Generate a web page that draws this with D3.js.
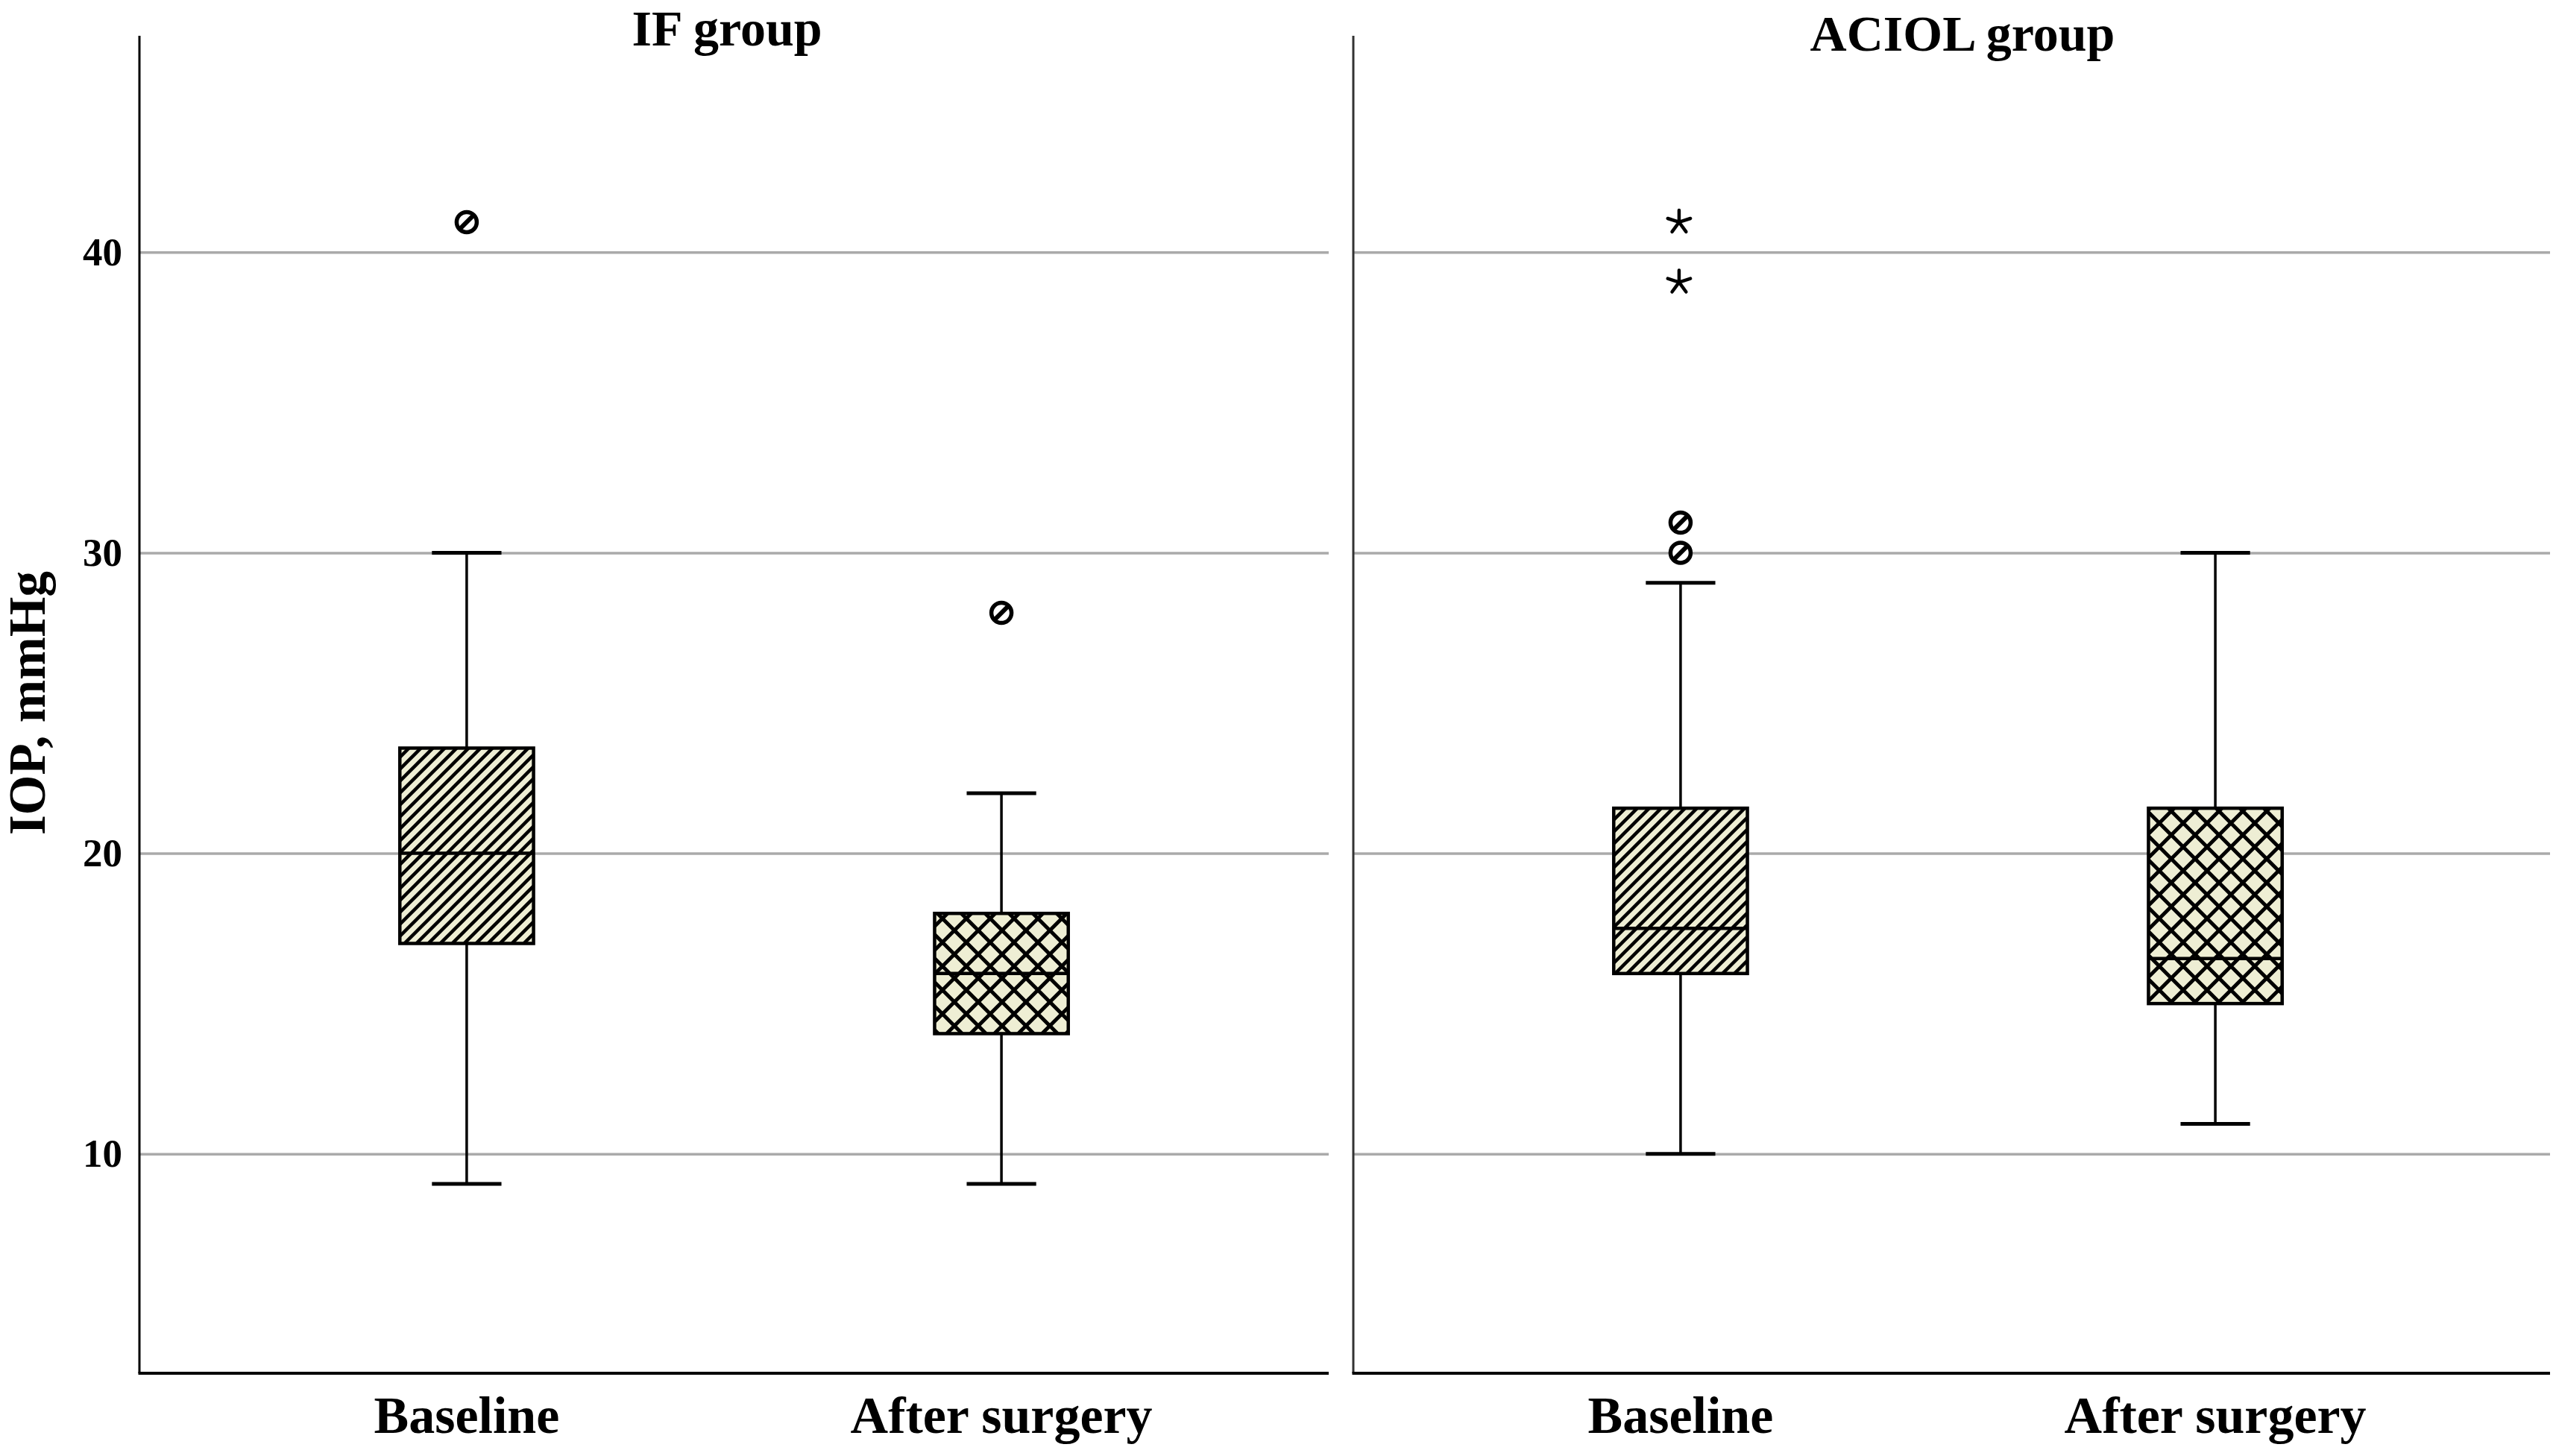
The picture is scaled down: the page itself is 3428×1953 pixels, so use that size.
<!DOCTYPE html>
<html>
<head>
<meta charset="utf-8">
<script src="https://cdn.jsdelivr.net/npm/d3@7"></script>
<style>
  body { margin: 0; background: #fff; }
  text { font-family: "Liberation Serif", "Times New Roman", serif; font-weight: bold; fill: #000; }
</style>
</head>
<body>
<div id="chart"></div>
<script>
// values (IOP, mmHg)
var groups = ["IF group", "ACIOL group"];
var categories = ["Baseline", "After surgery"];
var whiskerLow  = [[9, 9], [10, 11]];
var q1          = [[17, 14], [16, 15]];
var medians     = [[20, 16], [17.5, 16.5]];
var q3          = [[23.5, 18], [21.5, 21.5]];
var whiskerHigh = [[30, 22], [29, 30]];
var outliers    = [[[41], [28]], [[30, 31], []]];   // circle markers
var extremes    = [[[], []], [[39, 41], []]];       // star markers
var yTicks = [10, 20, 30, 40];

var svgWidth = 3428, svgHeight = 1953;
var plotTop = 48, plotBottom = 1842;
var panelLeft = [187, 1815];
var panelWidth = 1595;
var panelEnd = [1782, 3420];
var titleX = [975, 2632], titleY = [61, 68];
var boxFill = "#eeeed4";

var svg = d3.select("#chart")
  .append("svg")
  .attr("width", svgWidth)
  .attr("height", svgHeight);

// hatch patterns
var defs = svg.append("defs");
var diag = defs.append("pattern")
  .attr("id", "diag")
  .attr("patternUnits", "userSpaceOnUse")
  .attr("width", 16).attr("height", 16);
diag.append("rect").attr("width", 16).attr("height", 16).attr("fill", boxFill);
diag.append("path")
  .attr("d", "M-4,4 L4,-4 M-2,18 L18,-2 M12,20 L20,12")
  .attr("stroke", "#000").attr("stroke-width", 4.5);

var cross = defs.append("pattern")
  .attr("id", "cross")
  .attr("patternUnits", "userSpaceOnUse")
  .attr("width", 32).attr("height", 32);
cross.append("rect").attr("width", 32).attr("height", 32).attr("fill", boxFill);
cross.append("path")
  .attr("d", "M-3,-3 L35,35 M35,-3 L-3,35")
  .attr("stroke", "#000").attr("stroke-width", 5);
var patterns = ["url(#diag)", "url(#cross)"];

var y = d3.scaleLinear()
  .domain([2.7, 47.2])
  .range([plotBottom, plotTop]);

// 5 armed star path
function starPath(r) {
  var p = "";
  for (var k = 0; k < 5; k++) {
    var a = (-90 + k * 72) * Math.PI / 180;
    p += "M0,0L" + (r * Math.cos(a)).toFixed(2) + "," + (r * Math.sin(a)).toFixed(2);
  }
  return p;
}

groups.forEach(function(groupName, g) {
  var x = d3.scalePoint()
    .domain(categories)
    .range([panelLeft[g], panelLeft[g] + panelWidth])
    .padding(0.612);
  var boxW = x.step() * 0.25;
  var capW = x.step() * 0.13;

  var panel = svg.append("g");

  // gridlines (and tick labels on the first panel)
  var gridAxis = d3.axisLeft(y)
    .tickValues(yTicks)
    .tickSize(-(panelEnd[g] - panelLeft[g]))
    .tickPadding(23)
    .tickFormat(g === 0 ? d3.format("d") : function() { return ""; });
  var grid = panel.append("g")
    .attr("transform", "translate(" + panelLeft[g] + ",0)")
    .call(gridAxis);
  grid.select(".domain").remove();
  grid.selectAll(".tick line").attr("stroke", "#aaaaaa").attr("stroke-width", 3.5);
  grid.selectAll(".tick text")
    .style("font-size", "53px")
    .attr("fill", "#000");

  // axis lines
  panel.append("line")
    .attr("x1", panelLeft[g]).attr("x2", panelLeft[g])
    .attr("y1", plotTop).attr("y2", plotBottom)
    .attr("stroke", g === 0 ? "#000" : "#333").attr("stroke-width", 3);
  panel.append("line")
    .attr("x1", panelLeft[g] - 1.5).attr("x2", panelEnd[g])
    .attr("y1", plotBottom).attr("y2", plotBottom)
    .attr("stroke", "#000").attr("stroke-width", 4);

  // panel title
  panel.append("text")
    .attr("x", titleX[g]).attr("y", titleY[g])
    .attr("text-anchor", "middle")
    .style("font-size", "68px")
    .text(groupName);

  // category labels
  panel.selectAll(".cat")
    .data(categories)
    .enter().append("text")
    .attr("x", function(d) { return x(d); })
    .attr("y", 1922)
    .attr("text-anchor", "middle")
    .style("font-size", "70px")
    .text(function(d) { return d; });

  var rows = categories.map(function(c, i) {
    return {
      cat: c, idx: i,
      low: whiskerLow[g][i], q1: q1[g][i], med: medians[g][i],
      q3: q3[g][i], high: whiskerHigh[g][i],
      out: outliers[g][i], ext: extremes[g][i]
    };
  });

  var boxes = panel.selectAll(".box")
    .data(rows)
    .enter().append("g");

  // whiskers
  boxes.append("line")
    .attr("x1", function(d) { return x(d.cat); })
    .attr("x2", function(d) { return x(d.cat); })
    .attr("y1", function(d) { return y(d.high); })
    .attr("y2", function(d) { return y(d.q3); })
    .attr("stroke", "#000").attr("stroke-width", 3.5);
  boxes.append("line")
    .attr("x1", function(d) { return x(d.cat); })
    .attr("x2", function(d) { return x(d.cat); })
    .attr("y1", function(d) { return y(d.q1); })
    .attr("y2", function(d) { return y(d.low); })
    .attr("stroke", "#000").attr("stroke-width", 3.5);
  // caps
  ["high", "low"].forEach(function(k) {
    boxes.append("line")
      .attr("x1", function(d) { return x(d.cat) - capW / 2; })
      .attr("x2", function(d) { return x(d.cat) + capW / 2; })
      .attr("y1", function(d) { return y(d[k]); })
      .attr("y2", function(d) { return y(d[k]); })
      .attr("stroke", "#000").attr("stroke-width", 5);
  });

  // box
  boxes.append("rect")
    .attr("x", function(d) { return x(d.cat) - boxW / 2; })
    .attr("y", function(d) { return y(d.q3); })
    .attr("width", boxW)
    .attr("height", function(d) { return y(d.q1) - y(d.q3); })
    .attr("fill", function(d) { return patterns[d.idx]; })
    .attr("stroke", "#000").attr("stroke-width", 4.5);
  // median
  boxes.append("line")
    .attr("x1", function(d) { return x(d.cat) - boxW / 2; })
    .attr("x2", function(d) { return x(d.cat) + boxW / 2; })
    .attr("y1", function(d) { return y(d.med); })
    .attr("y2", function(d) { return y(d.med); })
    .attr("stroke", "#000").attr("stroke-width", 4.5);

  // outliers (circle with slash) and extremes (stars)
  rows.forEach(function(d) {
    d.out.forEach(function(v) {
      var o = panel.append("g")
        .attr("transform", "translate(" + x(d.cat) + "," + y(v) + ")");
      o.append("circle").attr("r", 13.5)
        .attr("fill", "#fff").attr("stroke", "#000").attr("stroke-width", 5.5);
      o.append("line")
        .attr("x1", -9).attr("y1", 9).attr("x2", 9).attr("y2", -9)
        .attr("stroke", "#000").attr("stroke-width", 6);
    });
    d.ext.forEach(function(v) {
      panel.append("path")
        .attr("transform", "translate(" + (x(d.cat) - 2) + "," + y(v) + ")")
        .attr("d", starPath(16))
        .attr("fill", "none")
        .attr("stroke", "#000").attr("stroke-width", 4.5)
        .attr("stroke-linecap", "round");
    });
  });
});

// y axis title
svg.append("text")
  .attr("transform", "translate(60,943) rotate(-90)")
  .attr("text-anchor", "middle")
  .style("font-size", "69px")
  .text("IOP, mmHg");
</script>
</body>
</html>
